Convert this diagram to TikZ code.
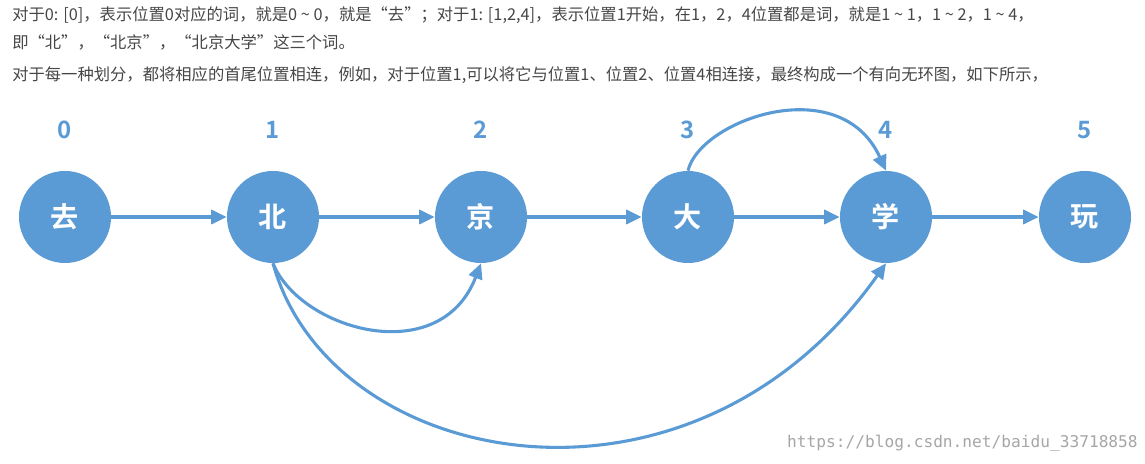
\documentclass[tikz,border=0pt]{standalone}
\usepackage{fontspec}
\setmainfont{Noto Sans}
\newfontfamily\cjk{Noto Sans CJK SC}
\newfontfamily\cjkb{Noto Sans CJK SC Bold}
\setmonofont{DejaVu Sans Mono}
\usetikzlibrary{arrows.meta}
\definecolor{nodeblue}{RGB}{91,155,213}
\definecolor{txtgray}{RGB}{70,70,70}
\tikzset{
  word/.style={circle, fill=nodeblue, minimum size=2.3cm, inner sep=0pt, text=white, font=\cjkb\fontsize{20}{24}\selectfont},
  posnum/.style={text=nodeblue, font=\cjkb\fontsize{17}{20}\selectfont},
  link/.style={nodeblue, line width=2.2pt, -{Triangle[length=11pt,width=10pt]}},
  textline/.style={anchor=west, text=txtgray, inner sep=0pt, font=\cjk\fontsize{11.6}{14}\selectfont}
}
\begin{document}
\begin{tikzpicture}[x=0.025cm, y=-0.025cm]
\useasboundingbox (0,0) rectangle (1145,464);
\node[textline] (t1) at (12,15) {对于0: [0]，表示位置0对应的词，就是0 \textasciitilde\ 0，就是“去”；对于1: [1,2,4]，表示位置1开始，在1，2，4位置都是词，就是1 \textasciitilde\ 1，1 \textasciitilde\ 2，1 \textasciitilde\ 4，};
\node[textline] (t2) at (12,42) {即“北”，“北京”，“北京大学”这三个词。};
\node[textline] (t3) at (12,75) {对于每一种划分，都将相应的首尾位置相连，例如，对于位置1,可以将它与位置1、位置2、位置4相连接，最终构成一个有向无环图，如下所示，};
\foreach \x/\n/\w in {65/0/去, 273/1/北, 481/2/京, 688/3/大, 886/4/学, 1085/5/玩} {
  \node[word] (w\n) at (\x,217) {\w};
  \node[posnum] (p\n) at (\x,130) {\n};
}
\foreach \a/\b in {0/1, 1/2, 2/3, 3/4, 4/5}
  \draw[link] (w\a) -- (w\b);
\draw[link] (w3.north) .. controls (700,120) and (840,70) .. (w4.north);
\draw[link] (w1.south) .. controls (300,330) and (440,370) .. (w2.south);
\draw[link] (w1.south) .. controls (330,470) and (690,540) .. (w4.south);
\node[anchor=east, text=gray!70, inner sep=0pt, font=\ttfamily\fontsize{11.5}{13}\selectfont] (mark) at (1138,443) {https://blog.csdn.net/baidu\_33718858};
\end{tikzpicture}
\end{document}
